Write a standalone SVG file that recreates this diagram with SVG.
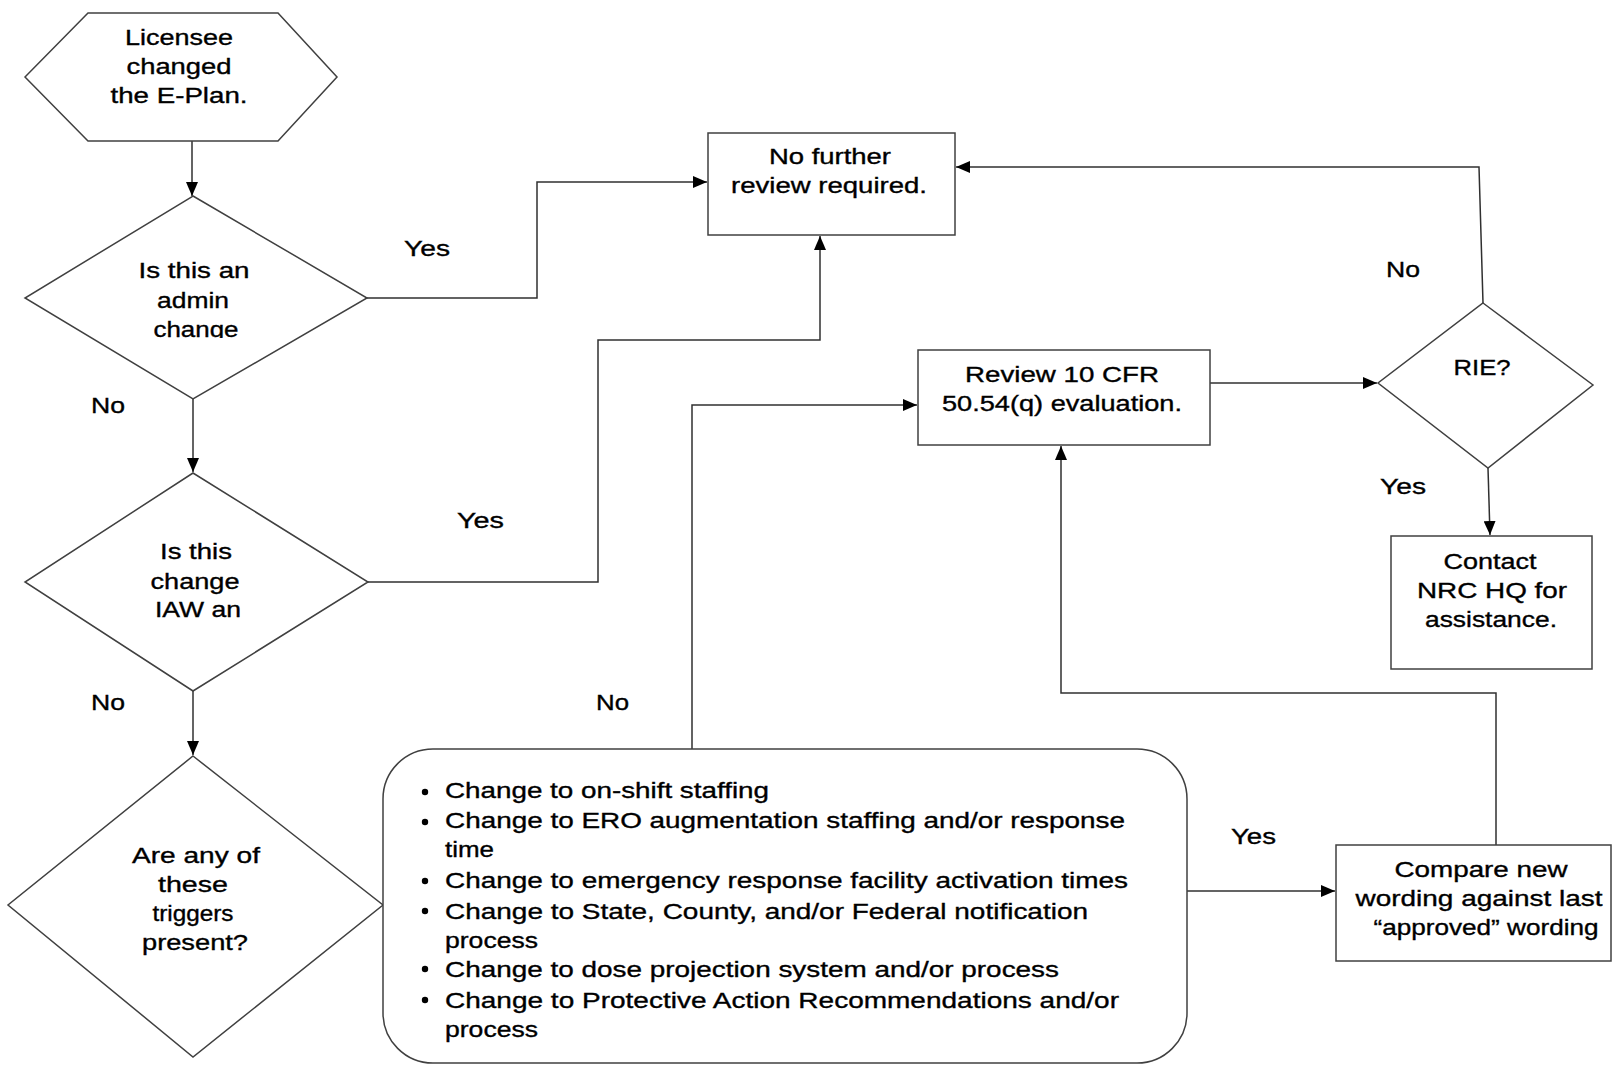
<svg xmlns="http://www.w3.org/2000/svg" width="1612" height="1065" viewBox="0 0 1612 1065">
<style>
.shape{fill:#fff;stroke:#404040;stroke-width:1.5}
.conn{fill:none;stroke:#303030;stroke-width:1.5}
text{font-family:"Liberation Sans",Arial,sans-serif;font-size:22px;fill:#000;stroke:#000;stroke-width:0.35}
.c{text-anchor:middle}
</style>
<defs>
<marker id="arr" viewBox="0 0 14 12" refX="14" refY="6" markerWidth="14" markerHeight="12" markerUnits="userSpaceOnUse" orient="auto">
<path d="M0,0 L14,6 L0,12 z" fill="#000"/>
</marker>
<clipPath id="clipD1"><rect x="0" y="180" width="400" height="158"/></clipPath>
</defs>

<g id="connectors">
<path class="conn" d="M192,141 V196" marker-end="url(#arr)"/>
<path class="conn" d="M193,399 V472" marker-end="url(#arr)"/>
<path class="conn" d="M193,691 V755" marker-end="url(#arr)"/>
<path class="conn" d="M367,298 H537 V182 H707" marker-end="url(#arr)"/>
<path class="conn" d="M368,582 H598 V340 H820 V236" marker-end="url(#arr)"/>
<path class="conn" d="M692,749 V405 H917" marker-end="url(#arr)"/>
<path class="conn" d="M1210,383 H1377" marker-end="url(#arr)"/>
<path class="conn" d="M1483,303 L1479,167 H956" marker-end="url(#arr)"/>
<path class="conn" d="M1488,468 L1490,535" marker-end="url(#arr)"/>
<path class="conn" d="M1187,891 H1335" marker-end="url(#arr)"/>
<path class="conn" d="M1496,845 V693 H1061 V446" marker-end="url(#arr)"/>
<text x="404" y="256" textLength="46" lengthAdjust="spacingAndGlyphs">Yes</text>
<text x="91" y="413" textLength="34" lengthAdjust="spacingAndGlyphs">No</text>
<text x="457" y="528" textLength="47" lengthAdjust="spacingAndGlyphs">Yes</text>
<text x="91" y="710" textLength="34" lengthAdjust="spacingAndGlyphs">No</text>
<text x="596" y="710" textLength="33" lengthAdjust="spacingAndGlyphs">No</text>
<text x="1386" y="277" textLength="34" lengthAdjust="spacingAndGlyphs">No</text>
<text x="1380" y="494" textLength="46" lengthAdjust="spacingAndGlyphs">Yes</text>
<text x="1231" y="844" textLength="45" lengthAdjust="spacingAndGlyphs">Yes</text>
</g>

<g id="start">
<polygon class="shape" points="25,77 88,13 278,13 337,77 278,141 88,141"/>
<text class="c" x="179" y="45" textLength="108" lengthAdjust="spacingAndGlyphs">Licensee</text>
<text class="c" x="179" y="74" textLength="105" lengthAdjust="spacingAndGlyphs">changed</text>
<text class="c" x="179" y="103" textLength="137" lengthAdjust="spacingAndGlyphs">the E-Plan.</text>
</g>

<g id="admin">
<polygon class="shape" points="193,196 367,298 193,399 25,298"/>
<g clip-path="url(#clipD1)">
<text class="c" x="194" y="278" textLength="111" lengthAdjust="spacingAndGlyphs">Is this an</text>
<text class="c" x="193" y="308" textLength="72" lengthAdjust="spacingAndGlyphs">admin</text>
<text class="c" x="196" y="337" textLength="85" lengthAdjust="spacingAndGlyphs">change</text>
</g>
</g>

<g id="iaw">
<polygon class="shape" points="193,473 368,582 193,691 25,582"/>
<text class="c" x="196" y="559" textLength="72" lengthAdjust="spacingAndGlyphs">Is this</text>
<text class="c" x="195" y="589" textLength="89" lengthAdjust="spacingAndGlyphs">change</text>
<text class="c" x="198" y="617" textLength="86" lengthAdjust="spacingAndGlyphs">IAW an</text>
</g>

<g id="triggers">
<polygon class="shape" points="193,756 383,905 193,1057 8,905"/>
<text class="c" x="196" y="863" textLength="128" lengthAdjust="spacingAndGlyphs">Are any of</text>
<text class="c" x="193" y="892" textLength="70" lengthAdjust="spacingAndGlyphs">these</text>
<text class="c" x="193" y="921" textLength="81" lengthAdjust="spacingAndGlyphs">triggers</text>
<text class="c" x="195" y="950" textLength="106" lengthAdjust="spacingAndGlyphs">present?</text>
</g>

<g id="trigger-list">
<rect class="shape" x="383" y="749" width="804" height="314" rx="50" ry="50"/>
<g fill="#000">
<circle cx="425" cy="792" r="3.2"/>
<circle cx="425" cy="822" r="3.2"/>
<circle cx="425" cy="881" r="3.2"/>
<circle cx="425" cy="911" r="3.2"/>
<circle cx="425" cy="969" r="3.2"/>
<circle cx="425" cy="1000" r="3.2"/>
</g>
<text x="445" y="798" textLength="324" lengthAdjust="spacingAndGlyphs">Change to on-shift staffing</text>
<text x="445" y="828" textLength="680" lengthAdjust="spacingAndGlyphs">Change to ERO augmentation  staffing and/or response</text>
<text x="445" y="857" textLength="49" lengthAdjust="spacingAndGlyphs">time</text>
<text x="445" y="888" textLength="683" lengthAdjust="spacingAndGlyphs">Change to emergency  response facility activation times</text>
<text x="445" y="919" textLength="643" lengthAdjust="spacingAndGlyphs">Change to State, County, and/or Federal notification</text>
<text x="445" y="948" textLength="93" lengthAdjust="spacingAndGlyphs">process</text>
<text x="445" y="977" textLength="614" lengthAdjust="spacingAndGlyphs">Change to dose projection system and/or process</text>
<text x="445" y="1008" textLength="674" lengthAdjust="spacingAndGlyphs">Change to Protective Action Recommendations  and/or</text>
<text x="445" y="1037" textLength="93" lengthAdjust="spacingAndGlyphs">process</text>
</g>

<g id="no-further">
<rect class="shape" x="708" y="133" width="247" height="102"/>
<text class="c" x="830" y="164" textLength="122" lengthAdjust="spacingAndGlyphs">No further</text>
<text class="c" x="829" y="193" textLength="196" lengthAdjust="spacingAndGlyphs">review required.</text>
</g>

<g id="review">
<rect class="shape" x="918" y="350" width="292" height="95"/>
<text class="c" x="1062" y="382" textLength="194" lengthAdjust="spacingAndGlyphs">Review 10 CFR</text>
<text class="c" x="1062" y="411" textLength="240" lengthAdjust="spacingAndGlyphs">50.54(q) evaluation.</text>
</g>

<g id="rie">
<polygon class="shape" points="1483,303 1593,385 1488,468 1378,383"/>
<text class="c" x="1482" y="375" textLength="57" lengthAdjust="spacingAndGlyphs">RIE?</text>
</g>

<g id="contact">
<rect class="shape" x="1391" y="536" width="201" height="133"/>
<text class="c" x="1490" y="569" textLength="93" lengthAdjust="spacingAndGlyphs">Contact</text>
<text class="c" x="1492" y="598" textLength="150" lengthAdjust="spacingAndGlyphs">NRC HQ for</text>
<text class="c" x="1491" y="627" textLength="132" lengthAdjust="spacingAndGlyphs">assistance.</text>
</g>

<g id="compare">
<rect class="shape" x="1336" y="845" width="275" height="116"/>
<text class="c" x="1481" y="877" textLength="173" lengthAdjust="spacingAndGlyphs">Compare new</text>
<text class="c" x="1479" y="906" textLength="247" lengthAdjust="spacingAndGlyphs">wording against last</text>
<text class="c" x="1486" y="935" textLength="225" lengthAdjust="spacingAndGlyphs">“approved” wording</text>
</g>
</svg>
